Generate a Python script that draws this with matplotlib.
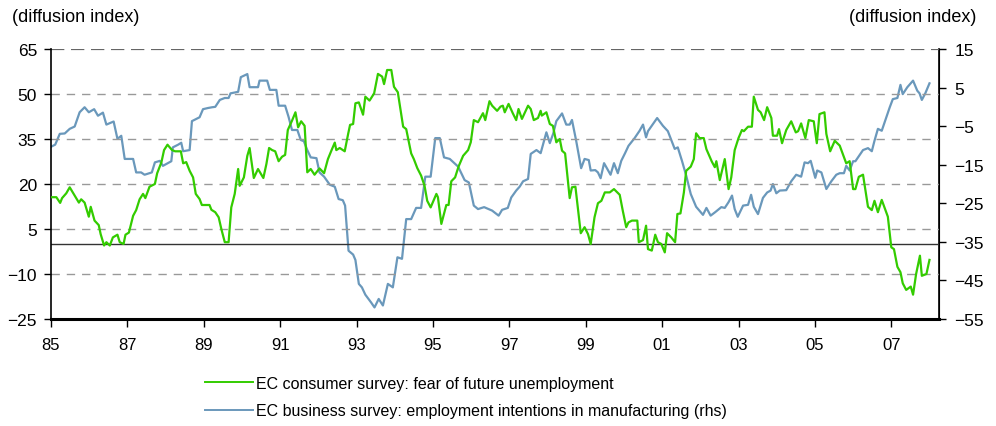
import matplotlib
matplotlib.use("Agg")
import matplotlib.pyplot as plt
from matplotlib.lines import Line2D

plt.rcParams['font.family'] = ['Liberation Sans', 'DejaVu Sans']

# EC consumer survey: fear of future unemployment (lhs)
cons_dates = [
    1985.01, 1985.14, 1985.24, 1985.29, 1985.40, 1985.49, 1985.62, 1985.73, 1985.79, 1985.88,
    1985.99, 1986.04, 1986.14, 1986.25, 1986.30, 1986.39, 1986.45, 1986.54, 1986.62, 1986.74,
    1986.80, 1986.90, 1986.95, 1987.04, 1987.15, 1987.23, 1987.32, 1987.41, 1987.47, 1987.58,
    1987.72, 1987.78, 1987.89, 1987.96, 1988.05, 1988.17, 1988.25, 1988.40, 1988.46, 1988.54,
    1988.63, 1988.72, 1988.79, 1988.89, 1988.95, 1989.15, 1989.20, 1989.30, 1989.39, 1989.46,
    1989.55, 1989.65, 1989.72, 1989.81, 1989.90, 1989.94, 1990.05, 1990.14, 1990.20, 1990.31,
    1990.42, 1990.56, 1990.64, 1990.71, 1990.79, 1990.87, 1990.96, 1991.05, 1991.13, 1991.20,
    1991.31, 1991.40, 1991.47, 1991.55, 1991.64, 1991.71, 1991.80, 1991.90, 1992.03, 1992.15,
    1992.25, 1992.34, 1992.43, 1992.47, 1992.56, 1992.69, 1992.78, 1992.83, 1992.91, 1992.97,
    1993.06, 1993.17, 1993.23, 1993.34, 1993.46, 1993.56, 1993.67, 1993.72, 1993.80, 1993.91,
    1993.98, 1994.08, 1994.22, 1994.30, 1994.43, 1994.50, 1994.59, 1994.69, 1994.78, 1994.85,
    1994.94, 1995.09, 1995.13, 1995.22, 1995.35, 1995.41, 1995.48, 1995.58, 1995.67, 1995.79,
    1995.92, 1995.99, 1996.07, 1996.18, 1996.31, 1996.37, 1996.48, 1996.55, 1996.68, 1996.77,
    1996.83, 1996.88, 1996.98, 1997.09, 1997.18, 1997.24, 1997.33, 1997.49, 1997.56, 1997.64,
    1997.75, 1997.82, 1997.85, 1997.97, 1998.06, 1998.14, 1998.23, 1998.32, 1998.38, 1998.46,
    1998.58, 1998.64, 1998.73, 1998.87, 1998.97, 1999.06, 1999.13, 1999.23, 1999.32, 1999.41,
    1999.50, 1999.63, 1999.74, 1999.89, 1999.97, 2000.06, 2000.12, 2000.21, 2000.35, 2000.39,
    2000.50, 2000.58, 2000.63, 2000.73, 2000.82, 2000.89, 2000.98, 2001.07, 2001.13, 2001.24,
    2001.34, 2001.40, 2001.48, 2001.57, 2001.63, 2001.75, 2001.83, 2001.89, 2001.98, 2002.09,
    2002.16, 2002.30, 2002.38, 2002.42, 2002.51, 2002.64, 2002.74, 2002.81, 2002.90, 2003.00,
    2003.09, 2003.14, 2003.25, 2003.35, 2003.40, 2003.51, 2003.58, 2003.67, 2003.75, 2003.86,
    2003.90, 2004.01, 2004.06, 2004.14, 2004.25, 2004.38, 2004.50, 2004.56, 2004.64, 2004.75,
    2004.84, 2004.97, 2005.05, 2005.12, 2005.25, 2005.30, 2005.40, 2005.52, 2005.65, 2005.73,
    2005.82, 2005.91, 2006.00, 2006.06, 2006.15, 2006.26, 2006.39, 2006.49, 2006.56, 2006.65,
    2006.75, 2006.91, 2007.00, 2007.07, 2007.16, 2007.24, 2007.30, 2007.39, 2007.51, 2007.57,
    2007.65, 2007.75, 2007.80, 2007.92, 2008.00,
]
cons_vals = [
    15.6, 15.6, 13.7, 15.3, 16.9, 18.9, 16.1, 13.8, 14.9, 13.8,
    9.1, 12.4, 7.8, 6.3, 3.3, -0.5, 0.6, -0.5, 2.2, 3.1,
    0.6, 0.0, 3.1, 3.8, 9.4, 11.3, 14.9, 16.7, 15.3, 19.1,
    20.0, 23.6, 27.2, 31.3, 33.1, 31.3, 30.9, 30.9, 26.9, 27.3,
    24.4, 22.2, 16.7, 15.0, 13.0, 13.0, 11.4, 10.6, 8.9, 5.0,
    0.6, 0.6, 12.2, 16.7, 25.0, 19.4, 22.2, 29.4, 32.0, 22.0,
    25.0, 22.0, 26.7, 32.0, 31.3, 30.9, 27.6, 29.1, 29.7, 38.0,
    41.1, 43.9, 38.9, 40.9, 39.4, 23.9, 25.0, 23.1, 25.2, 23.6,
    28.3, 31.1, 33.8, 31.3, 32.0, 30.9, 36.7, 39.7, 40.0, 46.9,
    47.2, 43.1, 49.1, 47.8, 50.2, 56.7, 55.8, 53.3, 58.0, 58.0,
    52.4, 50.6, 39.1, 38.3, 30.2, 28.3, 25.3, 22.8, 19.4, 14.4,
    12.2, 16.7, 15.6, 6.7, 13.0, 13.0, 20.9, 22.2, 25.8, 29.4,
    31.3, 33.9, 41.3, 40.6, 43.6, 41.3, 47.6, 46.1, 44.4, 45.8,
    46.1, 43.9, 46.7, 43.6, 41.3, 45.0, 41.7, 46.1, 45.0, 41.3,
    42.0, 44.4, 42.8, 43.9, 40.0, 39.4, 33.9, 35.0, 31.1, 30.2,
    15.3, 18.9, 19.1, 3.6, 5.6, 3.3, 0.0, 8.9, 13.6, 14.4,
    17.2, 17.2, 18.3, 16.4, 11.1, 5.6, 7.2, 7.8, 7.8, 0.6,
    1.3, 6.1, -1.7, -2.2, 3.1, 0.6, 0.0, -2.8, 3.6, 2.2,
    0.6, 10.0, 10.2, 17.2, 24.4, 25.8, 28.3, 36.9, 35.3, 35.3,
    31.6, 27.5, 25.6, 27.6, 21.3, 28.3, 18.3, 22.2, 31.3, 35.3,
    38.0, 37.6, 39.1, 39.1, 49.1, 44.7, 43.9, 41.3, 45.6, 42.0,
    36.1, 36.1, 38.3, 33.6, 38.0, 40.9, 37.2, 37.6, 40.2, 35.3,
    41.3, 40.9, 33.6, 43.3, 43.9, 36.7, 30.9, 34.4, 32.8, 30.0,
    26.9, 27.6, 18.3, 18.3, 22.4, 23.1, 12.4, 11.3, 14.4, 10.6,
    14.7, 9.1, -1.1, -1.7, -7.6, -9.4, -13.1, -15.3, -14.2, -16.9,
    -10.0, -3.9, -10.6, -10.0, -5.3,
]

# EC business survey: employment intentions in manufacturing (rhs)
bus_dates = [
    1985.01, 1985.11, 1985.23, 1985.36, 1985.49, 1985.62, 1985.75, 1985.88, 1985.99, 1986.13,
    1986.23, 1986.36, 1986.45, 1986.64, 1986.74, 1986.84, 1986.93, 1987.15, 1987.23, 1987.36,
    1987.45, 1987.64, 1987.72, 1987.85, 1987.93, 1988.15, 1988.19, 1988.33, 1988.41, 1988.46,
    1988.63, 1988.69, 1988.89, 1988.98, 1989.11, 1989.22, 1989.30, 1989.42, 1989.55, 1989.65,
    1989.70, 1989.90, 1989.97, 1990.14, 1990.20, 1990.42, 1990.46, 1990.66, 1990.73, 1990.90,
    1990.96, 1991.13, 1991.22, 1991.31, 1991.45, 1991.54, 1991.62, 1991.71, 1991.80, 1991.95,
    1992.03, 1992.15, 1992.30, 1992.43, 1992.53, 1992.64, 1992.70, 1992.79, 1992.91, 1992.97,
    1993.06, 1993.14, 1993.23, 1993.38, 1993.47, 1993.58, 1993.69, 1993.82, 1993.95, 1994.07,
    1994.19, 1994.30, 1994.43, 1994.56, 1994.69, 1994.80, 1994.94, 1995.06, 1995.18, 1995.29,
    1995.44, 1995.66, 1995.83, 1995.94, 1996.07, 1996.18, 1996.34, 1996.55, 1996.72, 1996.81,
    1996.96, 1997.05, 1997.18, 1997.27, 1997.36, 1997.49, 1997.56, 1997.71, 1997.82, 1997.97,
    1998.06, 1998.15, 1998.23, 1998.38, 1998.49, 1998.58, 1998.64, 1998.75, 1998.88, 1998.97,
    1999.08, 1999.13, 1999.25, 1999.32, 1999.39, 1999.48, 1999.65, 1999.74, 1999.84, 1999.93,
    2000.03, 2000.12, 2000.28, 2000.41, 2000.50, 2000.58, 2000.63, 2000.73, 2000.87, 2001.02,
    2001.15, 2001.33, 2001.41, 2001.52, 2001.63, 2001.75, 2001.89, 2002.07, 2002.16, 2002.27,
    2002.39, 2002.55, 2002.64, 2002.74, 2002.83, 2002.90, 2002.98, 2003.12, 2003.25, 2003.33,
    2003.40, 2003.51, 2003.64, 2003.75, 2003.84, 2003.90, 2003.99, 2004.08, 2004.25, 2004.38,
    2004.51, 2004.64, 2004.73, 2004.82, 2004.89, 2005.01, 2005.06, 2005.17, 2005.30, 2005.43,
    2005.56, 2005.65, 2005.76, 2005.82, 2005.91, 2006.00, 2006.06, 2006.26, 2006.39, 2006.49,
    2006.56, 2006.65, 2006.75, 2006.87, 2006.96, 2007.04, 2007.16, 2007.24, 2007.30, 2007.42,
    2007.57, 2007.68, 2007.74, 2007.80, 2007.89, 2008.00,
]
bus_vals = [
    -10.3, -9.8, -7.0, -6.9, -5.7, -5.1, -1.4, -0.1, -1.4, -0.6,
    -2.3, -1.5, -4.6, -3.8, -8.3, -7.5, -13.5, -13.5, -17.0, -17.0,
    -17.6, -17.0, -14.4, -14.0, -15.3, -14.1, -10.5, -9.8, -9.3, -11.5,
    -11.2, -3.7, -2.7, -0.6, -0.3, -0.1, 0.0, 1.8, 2.3, 2.3,
    3.5, 3.9, 7.7, 8.5, 5.1, 5.1, 6.8, 6.8, 4.4, 4.4,
    0.3, 0.3, -2.6, -6.0, -6.0, -8.6, -8.9, -11.2, -13.1, -13.3,
    -17.0, -18.1, -20.2, -20.7, -23.9, -24.2, -25.6, -37.3, -38.3, -39.7,
    -45.9, -46.8, -48.7, -50.7, -52.0, -49.8, -51.5, -45.9, -46.8, -39.0,
    -39.4, -29.1, -29.1, -26.2, -26.2, -18.1, -18.1, -8.1, -8.1, -13.1,
    -13.5, -15.5, -19.0, -19.6, -25.6, -26.5, -26.0, -26.9, -28.2, -26.7,
    -26.2, -23.5, -21.7, -20.7, -19.3, -18.7, -12.2, -11.2, -12.0, -6.6,
    -9.4, -6.9, -3.7, -1.7, -4.6, -4.6, -3.4, -8.8, -15.9, -13.5,
    -13.8, -16.5, -16.4, -17.0, -18.5, -14.6, -17.6, -14.6, -17.2, -14.0,
    -12.0, -10.1, -8.1, -6.2, -4.6, -7.9, -6.3, -4.9, -2.9, -4.9,
    -6.3, -10.9, -10.5, -14.0, -17.8, -22.6, -25.9, -28.0, -26.2, -28.2,
    -27.3, -26.0, -26.2, -24.7, -23.0, -26.5, -28.5, -25.6, -25.4, -22.8,
    -25.9, -27.8, -23.6, -22.2, -21.7, -20.0, -22.4, -21.7, -21.6, -19.3,
    -17.6, -18.1, -14.4, -14.6, -14.0, -18.4, -16.5, -17.0, -21.3, -19.3,
    -17.6, -17.2, -17.2, -15.3, -16.5, -14.1, -14.1, -11.2, -10.7, -11.5,
    -8.8, -5.7, -6.2, -2.7, -0.1, 2.0, 2.3, 5.7, 3.3, 5.1,
    6.8, 4.2, 3.5, 1.8, 3.5, 6.1,
]

left_ticks = [65, 50, 35, 20, 5, -10, -25]
right_ticks = [15, 5, -5, -15, -25, -35, -45, -55]
year_ticks = list(range(1985, 2008, 2))
year_labels = ['%02d' % (y % 100) for y in year_ticks]

green = '#33cc00'
blue = '#6a98bb'

fig = plt.figure(figsize=(9.96, 4.27), dpi=100)
ax = fig.add_axes([0.0512, 0.2506, 0.8916, 0.6323])
ax2 = ax.twinx()

# gridlines on the left scale
for v in [50, 35, 20, 5, -10]:
    ax.axhline(v, color='#999999', lw=1.0, ls=(0, (6, 5)), zorder=1)
ax.axhline(65, color='#666666', lw=1.6, ls=(0, (6, 3)), zorder=1)
ax.axhline(0, color='#333333', lw=1.0, zorder=2)

ax.plot(cons_dates, cons_vals, color=green, lw=1.6, zorder=4)
ax2.plot(bus_dates, bus_vals, color=blue, lw=1.6, zorder=3)
ax.set_zorder(ax2.get_zorder() + 1)
ax.patch.set_visible(False)

ax.set_xlim(1985, 2008.25)
ax.set_ylim(-25, 65)
ax2.set_ylim(-55, 15)

ax.set_yticks(left_ticks)
ax2.set_yticks(right_ticks)
ax.set_xticks(year_ticks)
ax.set_xticklabels(year_labels)

for a in (ax, ax2):
    a.spines['top'].set_visible(False)
    a.tick_params(labelsize=12.5, colors='black', direction='out', length=5, width=1)
ax.spines['bottom'].set_linewidth(2.2)
ax.spines['left'].set_linewidth(1.2)
ax2.spines['right'].set_linewidth(1.2)
ax2.spines['left'].set_visible(False)
ax2.spines['bottom'].set_visible(False)
ax.tick_params(axis='x', length=6, pad=7, labelsize=12)
ax.tick_params(axis='y', pad=5)
ax2.tick_params(axis='y', pad=6)

fig.text(0.012, 0.958, '(diffusion index)', fontsize=13, va='center', ha='left')
fig.text(0.980, 0.958, '(diffusion index)', fontsize=13, va='center', ha='right')

handles = [Line2D([], [], color=green, lw=1.4), Line2D([], [], color=blue, lw=1.4)]
labels = ['EC consumer survey: fear of future unemployment',
          'EC business survey: employment intentions in manufacturing (rhs)']
fig.legend(handles, labels, loc='upper left', bbox_to_anchor=(0.199, 0.132),
           frameon=False, fontsize=11.5, handlelength=3.0, handletextpad=0.2,
           labelspacing=0.78, borderaxespad=0)

fig.savefig('out.png', dpi=100)
